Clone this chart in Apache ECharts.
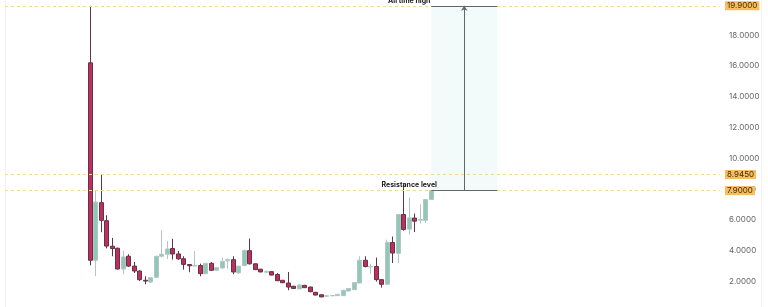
<!DOCTYPE html>
<html>
<head>
<meta charset="utf-8">
<script src="https://cdn.jsdelivr.net/npm/echarts@6/dist/echarts.min.js"></script>
<style>
html,body{margin:0;padding:0;background:#fff;}
#main{width:768px;height:307px;}
</style>
</head>
<body>
<div id="main"></div>
<script>
// ---- data ----
const leadingEmpty = 15;      // empty periods before the first candle
const totalPeriods = 130;     // periods shown on the x axis
const opens  = [16.2,3.38,7.12,5.95,4.29,4.16,2.81,3.64,3.0,2.68,2.08,1.97,2.27,3.64,3.77,4.14,3.79,3.48,3.1,3.0,3.04,2.51,3.18,2.73,2.88,3.34,3.42,2.56,3.03,4.0,3.15,2.8,2.6,2.64,2.45,2.08,1.9,1.69,1.52,1.75,1.64,1.3,1.14,1.05,1.07,1.08,1.08,1.38,1.47,1.9,3.38,2.95,2.97,2.12,1.82,4.53,3.83,6.35,5.4,6.12,5.98,5.97,7.32];
const closes = [3.38,7.16,5.97,4.3,4.14,2.81,3.59,3.0,2.68,2.12,2.03,2.25,3.64,3.77,4.11,3.79,3.47,3.11,3.02,3.05,2.51,3.18,2.73,2.9,3.3,3.42,2.62,3.0,4.02,3.15,2.77,2.62,2.66,2.42,2.05,1.92,1.64,1.55,1.77,1.6,1.34,1.12,1.0,1.07,1.09,1.17,1.43,1.54,1.93,3.38,2.97,2.97,2.12,1.82,4.53,3.85,6.35,5.38,6.13,5.92,6.03,7.32,7.9];
const lows   = [3.05,2.34,5.2,4.15,3.64,2.78,2.47,2.95,2.55,2.03,1.82,1.9,2.25,3.55,3.46,3.42,3.4,2.77,2.6,3.0,2.34,2.47,2.68,2.7,2.81,2.83,2.47,2.5,3.0,3.1,2.75,2.6,2.58,2.4,2.03,1.9,1.43,1.52,1.5,1.58,1.3,1.1,0.98,1.03,1.05,1.06,1.06,1.36,1.45,1.88,2.92,2.5,2.0,1.6,1.8,3.2,3.2,5.3,5.05,5.21,5.76,5.8,7.3];
const highs  = [19.9,7.88,8.945,6.3,4.83,4.2,3.98,3.77,3.27,2.72,2.34,2.28,3.66,5.32,4.63,4.77,3.98,3.64,3.14,3.97,3.16,3.2,3.27,2.93,3.55,3.5,3.64,3.02,4.07,4.79,3.17,2.82,2.7,2.66,2.55,2.1,2.62,1.72,1.8,1.78,1.66,1.32,1.16,1.09,1.12,1.19,1.45,1.56,1.95,3.64,3.64,3.16,3.55,2.15,4.72,4.92,6.38,8.36,7.45,6.41,7.01,7.34,7.92];
const levelValues = [19.9, 8.945, 7.9];
const allTimeHigh = 19.9;
const resistance = 7.9;
const zoneStart = 77, zoneEnd = 89, zoneMid = 83, noteAt = 73; // period indices
const yTicks = {min: 0, max: 20, interval: 2};

// ---- build ----
const cats = [];
for (let i = 0; i < totalPeriods; i++) cats.push(String(i));
const candles = [];
for (let i = 0; i < leadingEmpty; i++) candles.push('-');
for (let i = 0; i < opens.length; i++) candles.push([opens[i], closes[i], lows[i], highs[i]]);

const FONT = 'Inter, "Noto Sans", sans-serif';
const mkLevelLine = () => ({color: '#f3d596', type: [3, 3], width: 1, opacity: 1});
const chart = echarts.init(document.getElementById('main'), null, {renderer: 'canvas'});
chart.setOption({
  animation: false,
  backgroundColor: '#ffffff',
  graphic: [{
    type: 'rect', shape: {x: 5.5, y: -2, width: 756, height: 312},
    style: {fill: 'none', stroke: '#f2f2f2', lineWidth: 1}, silent: true, z: -1
  }],
  grid: {left: 5, right: 48, top: 4.3, height: 308, containLabel: false, outerBoundsMode: 'none'},
  xAxis: {
    type: 'category', data: cats, boundaryGap: true,
    axisLine: {show: false}, axisTick: {show: false}, axisLabel: {show: false}, splitLine: {show: false}
  },
  yAxis: {
    type: 'value', position: 'right', min: yTicks.min, max: yTicks.max, interval: yTicks.interval,
    axisLine: {show: false}, axisTick: {show: false}, splitLine: {show: false},
    axisLabel: {
      color: '#666', fontSize: 8, fontFamily: FONT, margin: 9,
      showMinLabel: false, showMaxLabel: false,
      formatter: v => v.toFixed(4)
    }
  },
  series: [
    {
      type: 'candlestick',
      data: candles,
      barWidth: 4.6,
      itemStyle: {
        color: '#8fc8b9', color0: '#be2f5d',
        borderColor: '#b4c6c2', borderColor0: '#643345', borderWidth: 1
      }
    },
    {
      type: 'line', data: [], silent: true, z: 1,
      markLine: {
        silent: true, symbol: 'none', precision: 4,
        lineStyle: mkLevelLine(),
        label: {
          show: true, position: 'end', distance: 5,
          formatter: p => Number(p.value).toFixed(4),
          backgroundColor: '#f7bd5e', color: '#3b2a10',
          fontSize: 8, fontFamily: FONT, padding: [1, 2, 0, 2]
        },
        data: levelValues.map(v => ({yAxis: v, lineStyle: mkLevelLine()}))
      }
    },
    {
      type: 'line', data: [], silent: true, z: 3,
      markArea: {
        silent: true,
        itemStyle: {color: 'rgba(190,232,228,0.18)'},
        data: [[{coord: [cats[zoneStart], allTimeHigh]}, {coord: [cats[zoneEnd], resistance]}]]
      },
      markLine: {
        silent: true, symbolSize: 5, precision: 4,
        lineStyle: {color: '#666', type: 'solid', width: 1},
        label: {show: false},
        data: [
          [{coord: [cats[zoneStart], allTimeHigh], symbol: 'none'}, {coord: [cats[zoneEnd], allTimeHigh], symbol: 'none'}],
          [{coord: [cats[zoneStart], resistance], symbol: 'none'}, {coord: [cats[zoneEnd], resistance], symbol: 'none'}],
          [{coord: [cats[zoneMid], resistance], symbol: 'none'}, {coord: [cats[zoneMid], allTimeHigh], symbol: 'arrow'}]
        ]
      },
      markPoint: {
        silent: true, symbol: 'circle', symbolSize: 1,
        itemStyle: {color: 'rgba(0,0,0,0)'},
        label: {show: true, color: '#222', fontSize: 7, fontWeight: 'bold', fontFamily: FONT},
        data: [
          {coord: [cats[noteAt], resistance], label: {formatter: 'Resistance level', offset: [0, -6]}},
          {coord: [cats[noteAt], allTimeHigh], label: {formatter: 'All time high', offset: [0, -5]}}
        ]
      }
    }
  ]
});
</script>
</body>
</html>
